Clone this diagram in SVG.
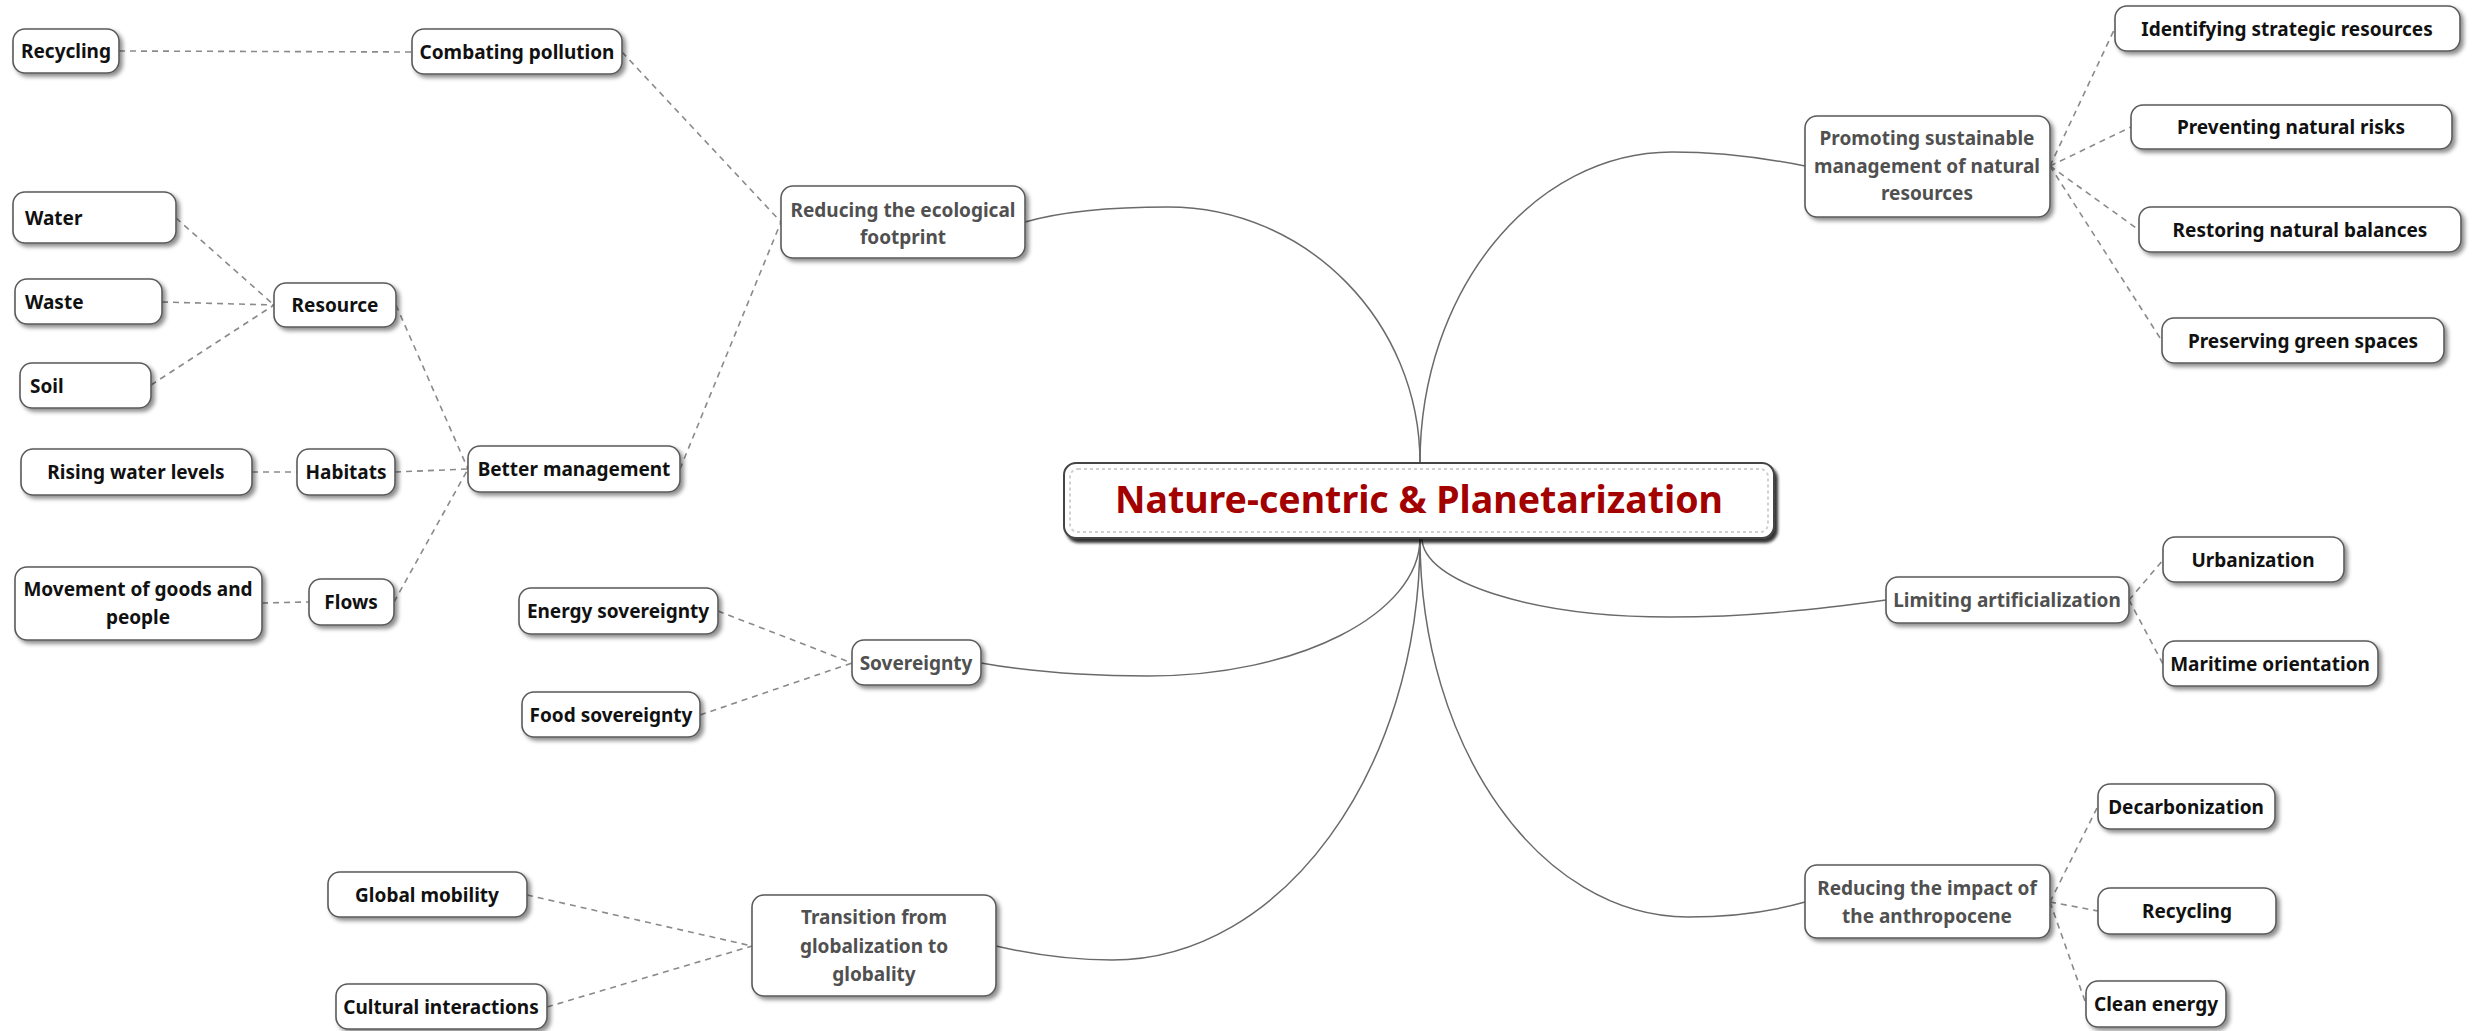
<svg xmlns="http://www.w3.org/2000/svg" width="2480" height="1031" viewBox="0 0 2480 1031">
<defs>
<filter id="sh" x="-10%" y="-20%" width="130%" height="160%">
<feDropShadow dx="3" dy="3" stdDeviation="2" flood-color="#000" flood-opacity="0.45"/>
</filter>
<filter id="shc" x="-5%" y="-20%" width="115%" height="160%">
<feDropShadow dx="3" dy="4" stdDeviation="1.5" flood-color="#000" flood-opacity="0.8"/>
</filter>
<style>
.box{fill:#fff;stroke:#5a5a5a;stroke-width:1.6;filter:url(#sh)}
.cbox{fill:#fff;stroke:#444;stroke-width:2;filter:url(#shc)}
.inner{fill:none;stroke:#d0d0d0;stroke-width:2;stroke-dasharray:3 3}
text{font-family:"Noto Sans","Open Sans","DejaVu Sans",sans-serif;font-weight:bold;font-size:19px;fill:#111}
.c{text-anchor:middle}
.g{fill:#505050}
.title{font-size:37.5px;fill:#a30000;text-anchor:middle}
.main{fill:none;stroke:#6a6a6a;stroke-width:1.5}
.sub{fill:none;stroke:#8a8a8a;stroke-width:1.6;stroke-dasharray:6 5}
</style>
</defs>
<rect width="2480" height="1031" fill="#fff"/>

<g id="connectors">
<path class="main" d="M1420,463 C1420,322 1307,207 1168,207 C1110,207 1060,212 1025,222"/>
<path class="main" d="M1420,463 C1420,291 1533,152 1672,152 C1720,152 1765,158 1805,166"/>
<path class="main" d="M1420,538 C1420,614 1298,676 1148,676 C1080,676 1020,670 981,663"/>
<path class="main" d="M1422,538 C1422,582 1532,617 1670,617 C1750,617 1820,609 1886,600"/>
<path class="main" d="M1420,538 C1420,771 1282,960 1112,960 C1070,960 1035,955 996,946"/>
<path class="main" d="M1420,538 C1420,747 1540,917 1688,917 C1730,917 1770,912 1805,902"/>
<path class="sub" d="M119,51 L412,52"/>
<path class="sub" d="M622,52 L781,222"/>
<path class="sub" d="M680,469 L781,222"/>
<path class="sub" d="M176,218 L274,305"/>
<path class="sub" d="M162,302 L274,305"/>
<path class="sub" d="M151,385 L274,305"/>
<path class="sub" d="M396,305 L468,469"/>
<path class="sub" d="M395,472 L468,469"/>
<path class="sub" d="M252,472 L297,472"/>
<path class="sub" d="M394,602 L468,469"/>
<path class="sub" d="M262,603 L309,602"/>
<path class="sub" d="M718,611 L852,663"/>
<path class="sub" d="M700,715 L852,663"/>
<path class="sub" d="M527,895 L752,946"/>
<path class="sub" d="M547,1007 L752,946"/>
<path class="sub" d="M2050,166 L2115,28"/>
<path class="sub" d="M2050,166 L2131,127"/>
<path class="sub" d="M2050,166 L2139,230"/>
<path class="sub" d="M2050,166 L2162,341"/>
<path class="sub" d="M2129,600 L2163,560"/>
<path class="sub" d="M2129,600 L2163,664"/>
<path class="sub" d="M2050,902 L2098,806"/>
<path class="sub" d="M2050,902 L2098,911"/>
<path class="sub" d="M2050,902 L2086,1004"/>
</g>

<g id="center">
<rect class="cbox" x="1064" y="463" width="710" height="75" rx="12"/>
<rect class="inner" x="1070" y="469" width="698" height="63" rx="8"/>
<text class="title" x="1419" y="513">Nature-centric &amp; Planetarization</text>
</g>

<g id="n_ecofoot"><rect class="box" x="781" y="186" width="244" height="72" rx="12"/>
<text class="c g" x="903" y="217">Reducing the ecological</text><text class="c g" x="903" y="244">footprint</text></g>
<g id="n_combat"><rect class="box" x="412" y="29" width="210" height="45" rx="12"/><text class="c" x="517" y="59">Combating pollution</text></g>
<g id="n_recycling_l"><rect class="box" x="13" y="29" width="106" height="44" rx="12"/><text class="c" x="66" y="58">Recycling</text></g>
<g id="n_better"><rect class="box" x="468" y="446" width="212" height="46" rx="12"/><text class="c" x="574" y="476">Better management</text></g>
<g id="n_resource"><rect class="box" x="274" y="283" width="122" height="44" rx="12"/><text class="c" x="335" y="312">Resource</text></g>
<g id="n_water"><rect class="box" x="13" y="192" width="163" height="51" rx="12"/><text x="25" y="225">Water</text></g>
<g id="n_waste"><rect class="box" x="15" y="279" width="147" height="45" rx="12"/><text x="25" y="309">Waste</text></g>
<g id="n_soil"><rect class="box" x="20" y="363" width="131" height="45" rx="12"/><text x="30" y="393">Soil</text></g>
<g id="n_habitats"><rect class="box" x="297" y="449" width="98" height="46" rx="12"/><text class="c" x="346" y="479">Habitats</text></g>
<g id="n_rising"><rect class="box" x="21" y="449" width="231" height="46" rx="12"/><text class="c" x="136" y="479">Rising water levels</text></g>
<g id="n_flows"><rect class="box" x="309" y="579" width="85" height="46" rx="12"/><text class="c" x="351" y="609">Flows</text></g>
<g id="n_movement"><rect class="box" x="15" y="567" width="247" height="73" rx="12"/>
<text class="c" x="138" y="596">Movement of goods and</text><text class="c" x="138" y="624">people</text></g>
<g id="n_sovereignty"><rect class="box" x="852" y="640" width="129" height="45" rx="12"/><text class="c g" x="916" y="670">Sovereignty</text></g>
<g id="n_energy"><rect class="box" x="519" y="588" width="199" height="46" rx="12"/><text class="c" x="618" y="618">Energy sovereignty</text></g>
<g id="n_food"><rect class="box" x="522" y="692" width="178" height="45" rx="12"/><text class="c" x="611" y="722">Food sovereignty</text></g>
<g id="n_transition"><rect class="box" x="752" y="895" width="244" height="101" rx="12"/>
<text class="c g" x="874" y="924">Transition from</text><text class="c g" x="874" y="953">globalization to</text><text class="c g" x="874" y="981">globality</text></g>
<g id="n_global"><rect class="box" x="328" y="872" width="199" height="45" rx="12"/><text class="c" x="427" y="902">Global mobility</text></g>
<g id="n_cultural"><rect class="box" x="336" y="984" width="211" height="45" rx="12"/><text class="c" x="441" y="1014">Cultural interactions</text></g>
<g id="n_promoting"><rect class="box" x="1805" y="116" width="245" height="101" rx="12"/>
<text class="c g" x="1927" y="145">Promoting sustainable</text><text class="c g" x="1927" y="173">management of natural</text><text class="c g" x="1927" y="200">resources</text></g>
<g id="n_identify"><rect class="box" x="2115" y="6" width="345" height="45" rx="12"/><text class="c" x="2287" y="36">Identifying strategic resources</text></g>
<g id="n_prevent"><rect class="box" x="2131" y="105" width="321" height="44" rx="12"/><text class="c" x="2291" y="134">Preventing natural risks</text></g>
<g id="n_restore"><rect class="box" x="2139" y="207" width="322" height="45" rx="12"/><text class="c" x="2300" y="237">Restoring natural balances</text></g>
<g id="n_preserve"><rect class="box" x="2162" y="318" width="282" height="45" rx="12"/><text class="c" x="2303" y="348">Preserving green spaces</text></g>
<g id="n_limiting"><rect class="box" x="1886" y="577" width="243" height="46" rx="12"/><text class="c g" x="2007" y="607">Limiting artificialization</text></g>
<g id="n_urban"><rect class="box" x="2163" y="537" width="181" height="45" rx="12"/><text class="c" x="2253" y="567">Urbanization</text></g>
<g id="n_maritime"><rect class="box" x="2163" y="641" width="215" height="45" rx="12"/><text class="c" x="2270" y="671">Maritime orientation</text></g>
<g id="n_impact"><rect class="box" x="1805" y="865" width="245" height="73" rx="12"/>
<text class="c g" x="1927" y="895">Reducing the impact of</text><text class="c g" x="1927" y="923">the anthropocene</text></g>
<g id="n_decarb"><rect class="box" x="2098" y="784" width="177" height="45" rx="12"/><text class="c" x="2186" y="814">Decarbonization</text></g>
<g id="n_recycling_r"><rect class="box" x="2098" y="888" width="178" height="46" rx="12"/><text class="c" x="2187" y="918">Recycling</text></g>
<g id="n_clean"><rect class="box" x="2086" y="981" width="140" height="46" rx="12"/><text class="c" x="2156" y="1011">Clean energy</text></g>
</svg>
